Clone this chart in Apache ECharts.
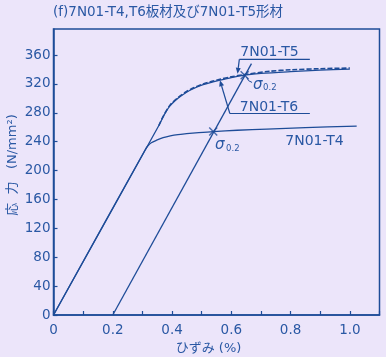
<!DOCTYPE html>
<html><head><meta charset="utf-8">
<script src="https://cdn.jsdelivr.net/npm/echarts@6/dist/echarts.min.js"></script>
<style>html,body{margin:0;padding:0;background:#ECE5FA;}#c{width:386px;height:357px;}</style>
</head><body><div id="c"></div>
<script>
const titleText = '(f)7N01-T4,T6板材及び7N01-T5形材';
const xName = 'ひずみ (%)';
const yName = '応  力   (N/mm²)';
// strain (%) / stress (N/mm²)
const t4Strain = [0, 0.309, 0.318, 0.33, 0.348, 0.37, 0.394, 0.42, 0.449, 0.49, 0.539, 0.62, 0.72, 0.85, 1.023];
const t4Stress = [0, 228.5, 234, 238.5, 242, 245.5, 248, 249.8, 251, 252.5, 254, 255.8, 257.5, 259.5, 261.6];
const t6Strain = [0, 0.355, 0.372, 0.393, 0.42, 0.449, 0.475, 0.505, 0.535, 0.562, 0.6, 0.645, 0.7, 0.8, 0.9, 1.0];
const t6Stress = [0, 262, 276, 289.5, 300, 308.5, 314, 319, 322.5, 325.3, 328.8, 332, 334.5, 337, 339, 340.5];
const t5Strain = [0.355, 0.372, 0.393, 0.42, 0.449, 0.475, 0.505, 0.535, 0.562, 0.6, 0.645, 0.73, 0.8, 0.9, 1.0];
const t5Stress = [262, 276.5, 290.5, 301, 309.5, 315, 320, 323.5, 326.3, 329.8, 333, 337.5, 339.5, 341, 342];
const offsetStrain = [0.2, 0.668];
const offsetStress = [0, 348];
const sigmaStrain = [0.539, 0.645];
const sigmaStress = [254, 332];
const xTicks = [0, 0.2, 0.4, 0.6, 0.8, 1.0];

const LINE = '#1E4C98';
const TXT = '#2A58A4';
const FONT = '"DejaVu Sans", "Noto Sans CJK JP", sans-serif';
const zip = (a, b) => a.map((v, i) => [v, b[i]]);

const chart = echarts.init(document.getElementById('c'), null, {renderer: 'canvas'});
const option = {
  backgroundColor: '#ECE5FA',
  animation: false,
  grid: {left: 53.5, right: 6.5, top: 29, bottom: 42, containLabel: false, outerBoundsMode: 'none',
    show: true, borderColor: LINE, borderWidth: 1.5, backgroundColor: 'transparent'},
  xAxis: {
    type: 'value', min: 0, max: 1.1, interval: 0.1,
    name: xName, nameLocation: 'middle', nameGap: 27, nameMoveOverlap: false,
    nameTextStyle: {color: TXT, fontSize: 13, fontFamily: FONT, padding: [0, 16, 0, 0]},
    axisLine: {lineStyle: {color: LINE, width: 1.5}},
    axisTick: {inside: true, length: 4, lineStyle: {color: LINE, width: 1.2}},
    splitLine: {show: false},
    axisLabel: {color: TXT, fontSize: 13.5, fontFamily: FONT, margin: 9,
      formatter: v => { const r = Math.round(v * 10) / 10; return xTicks.some(t => Math.abs(t - r) < 1e-6) ? (r === 0 ? '0' : r.toFixed(1)) : ''; }}
  },
  yAxis: {
    type: 'value', min: 0, max: 396, interval: 40,
    name: yName, nameLocation: 'middle', nameGap: 34, nameRotate: 90, nameMoveOverlap: false,
    nameTextStyle: {color: TXT, fontSize: 13, fontFamily: FONT, padding: [0, 0, 0, 14]},
    axisLine: {lineStyle: {color: LINE, width: 1.5}},
    axisTick: {inside: true, length: 4, lineStyle: {color: LINE, width: 1.2}},
    splitLine: {show: false},
    axisLabel: {color: TXT, fontSize: 13.5, fontFamily: FONT, margin: 3, showMaxLabel: false,
      formatter: v => (v % 40 === 0 ? String(v) : '')}
  },
  series: [
    {type: 'line', data: zip(t4Strain, t4Stress), smooth: 0.3, symbol: 'none', lineStyle: {color: LINE, width: 1.3}},
    {type: 'line', data: zip(t6Strain, t6Stress), smooth: 0.3, symbol: 'none', lineStyle: {color: LINE, width: 1.3}},
    {type: 'line', data: zip(t5Strain, t5Stress), smooth: 0.3, symbol: 'none', lineStyle: {color: LINE, width: 1.6, type: [5, 2]}},
    {type: 'line', data: zip(offsetStrain, offsetStress), symbol: 'none', lineStyle: {color: LINE, width: 1.3}},
    {type: 'scatter', data: zip(sigmaStrain, sigmaStress), symbol: 'path://M0,0L10,10M10,0L0,10', symbolSize: 8,
      itemStyle: {color: 'none', borderColor: LINE, borderWidth: 1.4}}
  ]
};
chart.setOption(option);

const P = (x, y) => chart.convertToPixel({gridIndex: 0}, [x, y]);
function arrow(from, to) {
  const dx = to[0] - from[0], dy = to[1] - from[1];
  const L = Math.hypot(dx, dy), ux = dx / L, uy = dy / L;
  const hl = 6, hw = 2.5;
  const bx = to[0] - ux * hl, by = to[1] - uy * hl;
  return [
    {type: 'line', shape: {x1: from[0], y1: from[1], x2: bx, y2: by}, style: {stroke: LINE, lineWidth: 1.2}},
    {type: 'polygon', shape: {points: [to, [bx - uy * hw, by + ux * hw], [bx + uy * hw, by - ux * hw]]}, style: {fill: LINE}}
  ];
}
const g = [];
g.push({type: 'text', left: 53, top: 6, style: {text: titleText, fill: TXT, font: '13.5px ' + FONT}});
// T5 label
const t5a = P(0.627, 354), t5b = P(0.865, 354);
g.push({type: 'line', shape: {x1: t5a[0], y1: t5a[1], x2: t5b[0], y2: t5b[1]}, style: {stroke: LINE, lineWidth: 1.2}});
g.push(...arrow(t5a, P(0.621, 334)));
g.push({type: 'text', x: t5a[0] + 1, y: t5a[1], style: {text: '7N01-T5', fill: TXT, font: '14px ' + FONT, textVerticalAlign: 'bottom'}});
// T6 label
const t6a = P(0.595, 279), t6b = P(0.865, 279);
g.push({type: 'line', shape: {x1: t6a[0], y1: t6a[1], x2: t6b[0], y2: t6b[1]}, style: {stroke: LINE, lineWidth: 1.2}});
g.push(...arrow(t6a, P(0.5615, 325)));
g.push({type: 'text', x: t6a[0] + 10, y: t6a[1] + 1, style: {text: '7N01-T6', fill: TXT, font: '14px ' + FONT, textVerticalAlign: 'bottom'}});
// T4 label
const t4p = P(0.782, 241);
g.push({type: 'text', x: t4p[0], y: t4p[1], style: {text: '7N01-T4', fill: TXT, font: '14px ' + FONT, textVerticalAlign: 'middle'}});
// sigma 0.2 upper
const su = P(0.645, 332), se = P(0.67, 322);
g.push({type: 'bezierCurve', shape: {x1: su[0] + 2, y1: su[1] + 2, x2: se[0], y2: se[1], cpx1: su[0] + 3, cpy1: se[1] - 1}, style: {stroke: LINE, lineWidth: 1, fill: 'none'}});
g.push({type: 'text', x: se[0] + 1, y: se[1] + 10, style: {text: 'σ', fill: TXT, font: 'italic 15px ' + FONT, textVerticalAlign: 'bottom'}});
g.push({type: 'text', x: se[0] + 11, y: se[1] + 10, style: {text: '0.2', fill: TXT, font: '8.5px ' + FONT, textVerticalAlign: 'bottom'}});
// sigma 0.2 lower
const sl = P(0.545, 240);
g.push({type: 'text', x: sl[0], y: sl[1] + 11, style: {text: 'σ', fill: TXT, font: 'italic 15px ' + FONT, textVerticalAlign: 'bottom'}});
g.push({type: 'text', x: sl[0] + 11, y: sl[1] + 11, style: {text: '0.2', fill: TXT, font: '8.5px ' + FONT, textVerticalAlign: 'bottom'}});
chart.setOption({graphic: g});
</script></body></html>
